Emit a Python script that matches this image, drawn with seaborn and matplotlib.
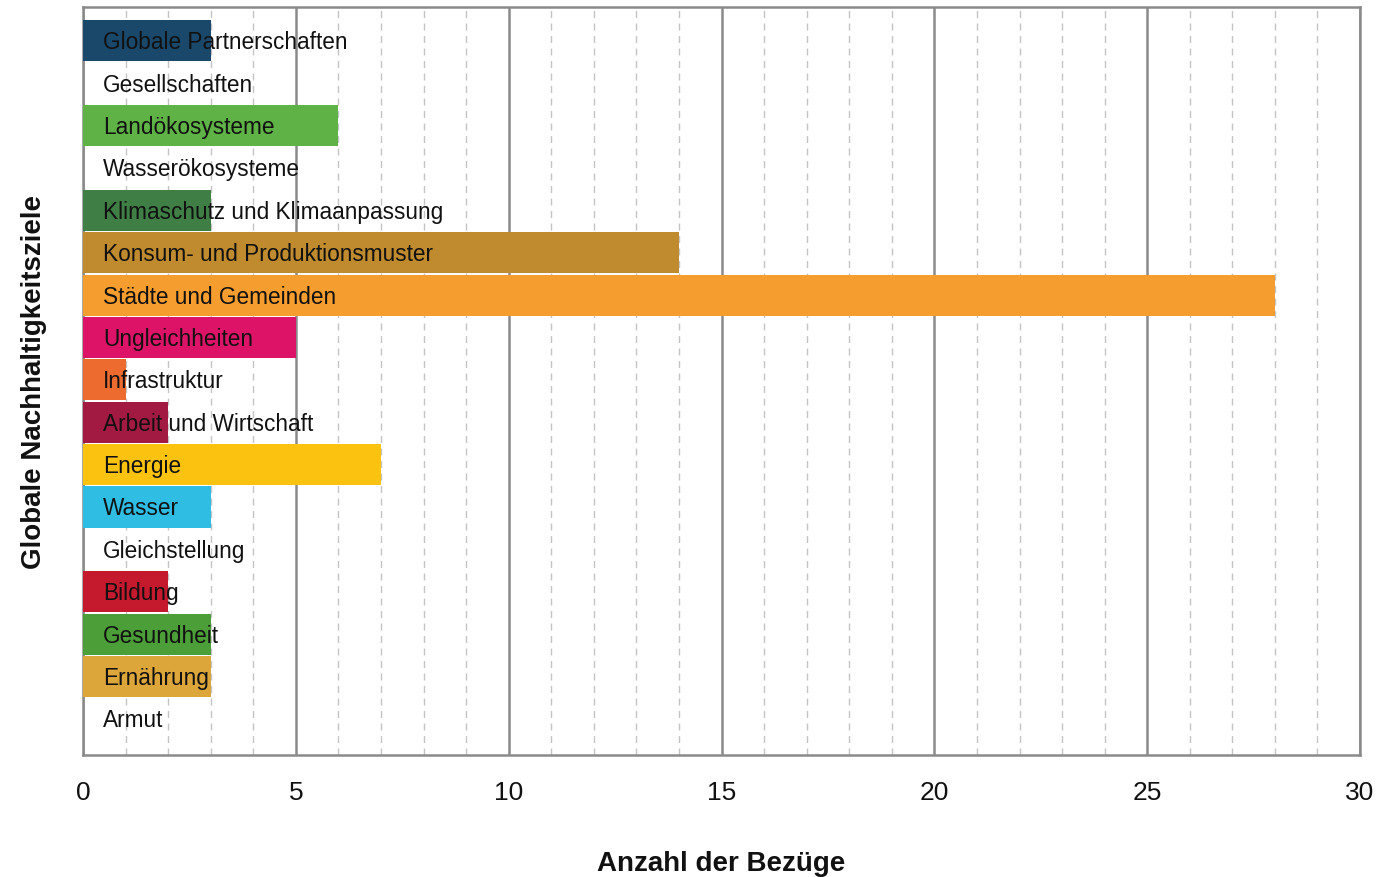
import matplotlib
matplotlib.use("Agg")
import matplotlib.pyplot as plt
import seaborn as sns
import pandas as pd
from matplotlib.ticker import MultipleLocator

# Sustainable development goals (top to bottom) and number of references
goals = [
    "Globale Partnerschaften", "Gesellschaften", "Landökosysteme",
    "Wasserökosysteme", "Klimaschutz und Klimaanpassung",
    "Konsum- und Produktionsmuster", "Städte und Gemeinden",
    "Ungleichheiten", "Infrastruktur", "Arbeit und Wirtschaft",
    "Energie", "Wasser", "Gleichstellung", "Bildung", "Gesundheit",
    "Ernährung", "Armut",
]
counts = [3, 0, 6, 0, 3, 14, 28, 5, 1, 2, 7, 3, 0, 2, 3, 3, 0]
colors = [
    "#19486A", "#00689D", "#5FB346", "#0A97D9", "#3F7E44", "#BF8B2E",
    "#F59D2E", "#DD1367", "#EE6B30", "#A21942", "#FBC30F", "#2FBDE3",
    "#FF3A21", "#C5192D", "#4C9F38", "#DDA63A", "#E5243B",
]
x_ticks = [0, 5, 10, 15, 20, 25, 30]

df = pd.DataFrame({"Ziel": goals, "Anzahl": counts})
palette = dict(zip(goals, colors))

sns.set_style("white")
plt.rcParams["font.family"] = ["Liberation Sans", "DejaVu Sans"]

fig = plt.figure(figsize=(13.82, 8.78), dpi=100)
ax = fig.add_axes([0.0601, 0.1390, 0.9240, 0.8519])

sns.barplot(data=df, x="Anzahl", y="Ziel", hue="Ziel", palette=palette,
            order=goals, hue_order=goals, dodge=False, legend=False,
            width=0.97, saturation=1, orient="h", linewidth=0,
            ax=ax, zorder=3)

# Goal names written inside the rows
for i, name in enumerate(goals):
    ax.text(0.47, i + 0.02, name, va="center", ha="left", fontsize=16.3,
            color="#111111", zorder=5)

ax.set_xlim(0, 30)
ax.set_ylim(16.85, -0.8)
ax.set_xticks(x_ticks)
ax.set_xticklabels([str(t) for t in x_ticks], fontsize=19, color="#111111")
ax.xaxis.set_minor_locator(MultipleLocator(1))
ax.set_yticks([])

ax.grid(False)
ax.grid(axis="x", which="minor", color="#c4c4c4", linestyle=(0, (5, 4)),
        linewidth=1.0, zorder=0)
ax.grid(axis="x", which="major", color="#8a8a8a", linestyle="-",
        linewidth=1.8, zorder=1)
ax.set_axisbelow(True)
ax.tick_params(axis="x", which="both", length=0, pad=18)

for side in ["left", "right", "top", "bottom"]:
    ax.spines[side].set_visible(True)
    ax.spines[side].set_color("#8a8a8a")
    ax.spines[side].set_linewidth(1.8)

ax.set_xlabel("Anzahl der Bezüge", fontsize=20, fontweight="bold",
              color="#111111", labelpad=33)
ax.set_ylabel("Globale Nachhaltigkeitsziele", fontsize=20, fontweight="bold",
              color="#111111", labelpad=26)

fig.savefig("out.png", dpi=100)
